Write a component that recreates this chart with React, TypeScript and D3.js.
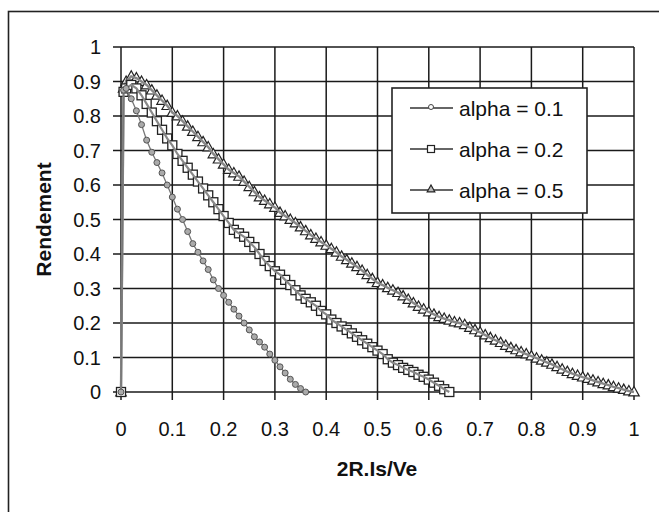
import React from "react";
import * as d3 from "d3";

const xTicks = [0, 0.1, 0.2, 0.3, 0.4, 0.5, 0.6, 0.7, 0.8, 0.9, 1];
const yTicks = [0, 0.1, 0.2, 0.3, 0.4, 0.5, 0.6, 0.7, 0.8, 0.9, 1];
const tickLabels = ["0", "0.1", "0.2", "0.3", "0.4", "0.5", "0.6", "0.7", "0.8", "0.9", "1"];

const seriesNames = ["alpha = 0.1", "alpha = 0.2", "alpha = 0.5"];

const x01 = [0, 0.005, 0.01, 0.02, 0.03, 0.04, 0.05, 0.06, 0.07, 0.08, 0.09, 0.1, 0.11, 0.12, 0.13, 0.14, 0.15, 0.16, 0.17, 0.18, 0.19, 0.2, 0.21, 0.22, 0.23, 0.24, 0.25, 0.26, 0.27, 0.28, 0.29, 0.3, 0.31, 0.32, 0.33, 0.34, 0.35, 0.36];
const y01 = [0, 0.875, 0.88, 0.85, 0.815, 0.775, 0.73, 0.695, 0.665, 0.635, 0.6, 0.565, 0.53, 0.5, 0.465, 0.43, 0.405, 0.38, 0.355, 0.325, 0.3, 0.28, 0.26, 0.24, 0.22, 0.2, 0.18, 0.16, 0.145, 0.13, 0.11, 0.092, 0.073, 0.055, 0.037, 0.022, 0.01, 0.0];

const x02 = [0, 0.005, 0.01, 0.02, 0.03, 0.04, 0.05, 0.06, 0.07, 0.08, 0.09, 0.1, 0.11, 0.12, 0.13, 0.14, 0.15, 0.16, 0.17, 0.18, 0.19, 0.2, 0.21, 0.22, 0.23, 0.24, 0.25, 0.26, 0.27, 0.28, 0.29, 0.3, 0.31, 0.32, 0.33, 0.34, 0.35, 0.36, 0.37, 0.38, 0.39, 0.4, 0.41, 0.42, 0.43, 0.44, 0.45, 0.46, 0.47, 0.48, 0.49, 0.5, 0.51, 0.52, 0.53, 0.54, 0.55, 0.56, 0.57, 0.58, 0.59, 0.6, 0.61, 0.62, 0.63, 0.64];
const y02 = [0, 0.87, 0.88, 0.89, 0.88, 0.86, 0.835, 0.81, 0.785, 0.76, 0.735, 0.715, 0.69, 0.67, 0.65, 0.63, 0.61, 0.59, 0.57, 0.55, 0.53, 0.51, 0.49, 0.47, 0.46, 0.45, 0.435, 0.42, 0.4, 0.38, 0.365, 0.35, 0.34, 0.325, 0.31, 0.295, 0.28, 0.27, 0.26, 0.25, 0.235, 0.225, 0.21, 0.2, 0.19, 0.18, 0.17, 0.16, 0.15, 0.14, 0.13, 0.12, 0.11, 0.095, 0.085, 0.078, 0.07, 0.064, 0.058, 0.05, 0.044, 0.036, 0.027, 0.018, 0.008, 0.0];

const x05 = [0, 0.005, 0.01, 0.02, 0.03, 0.04, 0.05, 0.06, 0.07, 0.08, 0.09, 0.1, 0.11, 0.12, 0.13, 0.14, 0.15, 0.16, 0.17, 0.18, 0.19, 0.2, 0.21, 0.22, 0.23, 0.24, 0.25, 0.26, 0.27, 0.28, 0.29, 0.3, 0.31, 0.32, 0.33, 0.34, 0.35, 0.36, 0.37, 0.38, 0.39, 0.4, 0.41, 0.42, 0.43, 0.44, 0.45, 0.46, 0.47, 0.48, 0.49, 0.5, 0.51, 0.52, 0.53, 0.54, 0.55, 0.56, 0.57, 0.58, 0.59, 0.6, 0.61, 0.62, 0.63, 0.64, 0.65, 0.66, 0.67, 0.68, 0.69, 0.7, 0.71, 0.72, 0.73, 0.74, 0.75, 0.76, 0.77, 0.78, 0.79, 0.8, 0.81, 0.82, 0.83, 0.84, 0.85, 0.86, 0.87, 0.88, 0.89, 0.9, 0.91, 0.92, 0.93, 0.94, 0.95, 0.96, 0.97, 0.98, 0.99, 1.0];
const y05 = [0, 0.88, 0.9, 0.915, 0.91, 0.9, 0.89, 0.875, 0.86, 0.845, 0.83, 0.81, 0.8, 0.785, 0.77, 0.755, 0.74, 0.725, 0.71, 0.69, 0.675, 0.66, 0.645, 0.635, 0.625, 0.61, 0.595, 0.58, 0.565, 0.555, 0.545, 0.535, 0.52, 0.51, 0.5, 0.49, 0.478, 0.467, 0.455, 0.445, 0.435, 0.425, 0.415, 0.405, 0.393, 0.383, 0.373, 0.363, 0.352, 0.34, 0.328, 0.317, 0.31, 0.302, 0.295, 0.288, 0.278, 0.268, 0.258, 0.248, 0.24, 0.232, 0.225, 0.218, 0.213, 0.208, 0.203, 0.2, 0.195, 0.187, 0.18, 0.173, 0.165, 0.157, 0.15, 0.143, 0.135, 0.128, 0.122, 0.116, 0.11, 0.104, 0.098, 0.092, 0.086, 0.08, 0.073, 0.066, 0.059, 0.053, 0.048, 0.043, 0.039, 0.034, 0.029, 0.024, 0.02, 0.015, 0.011, 0.007, 0.003, 0.0];

const FONT = "'Liberation Sans', Arial, sans-serif";

export default function App() {
  const W = 659, H = 512;
  const x = d3.scaleLinear().domain([0, 1]).range([121, 634]);
  const y = d3.scaleLinear().domain([0, 1]).range([392, 47]);
  const line = d3.line<[number, number]>().x(d => x(d[0])).y(d => y(d[1]));
  const s1 = x01.map((v, i) => [v, y01[i]] as [number, number]);
  const s2 = x02.map((v, i) => [v, y02[i]] as [number, number]);
  const s5 = x05.map((v, i) => [v, y05[i]] as [number, number]);
  const tri = (cx: number, cy: number, r: number) =>
    `M${cx},${cy - r}L${cx + r * 0.95},${cy + r * 0.7}L${cx - r * 0.95},${cy + r * 0.7}Z`;
  const lx0 = 410, lx1 = 453, lxm = 431;
  const rows = [108, 149, 190];
  return (
    <svg width={W} height={H} style={{ position: "absolute", left: 0, top: 0, background: "#fff" }} fontFamily={FONT}>
      <rect x={0} y={0} width={W} height={H} fill="#fff" />
      <rect x={8.5} y={11.5} width={800} height={700} fill="none" stroke="#222" strokeWidth={1.6} />
      {/* grid */}
      {yTicks.map((t, i) => (
        <line key={"h" + i} x1={113} x2={634} y1={y(t)} y2={y(t)} stroke="#1a1a1a" strokeWidth={1.5} />
      ))}
      {xTicks.map((t, i) => (
        <line key={"v" + i} x1={x(t)} x2={x(t)} y1={47} y2={400} stroke="#1a1a1a" strokeWidth={1.5} />
      ))}
      {/* tick labels */}
      {yTicks.map((t, i) => (
        <text key={"yl" + i} x={101} y={y(t) + 7} textAnchor="end" fontSize={20} fill="#111">{tickLabels[i]}</text>
      ))}
      {xTicks.map((t, i) => (
        <text key={"xl" + i} x={x(t)} y={436} textAnchor="middle" fontSize={20} fill="#111">{tickLabels[i]}</text>
      ))}
      {/* titles */}
      <text transform={`translate(51,${(47 + 392) / 2}) rotate(-90)`} textAnchor="middle" fontSize={21} fontWeight="bold" fill="#111">Rendement</text>
      <text x={377} y={476} textAnchor="middle" fontSize={21} fontWeight="bold" fill="#111">2R.Is/Ve</text>
      {/* series alpha 0.5 */}
      {s5.map((d, i) => (
        <path key={"t" + i} d={tri(x(d[0]), y(d[1]), 5.5)} fill="#fff" stroke="#222" strokeWidth={1.2} />
      ))}
      <path d={line(s5) || ""} fill="none" stroke="#888" strokeWidth={2.4} />
      {/* series alpha 0.2 */}
      {s2.map((d, i) => (
        <rect key={"s" + i} x={x(d[0]) - 4.5} y={y(d[1]) - 4.5} width={9} height={9} fill="#fff" stroke="#222" strokeWidth={1.3} />
      ))}
      <path d={line(s2) || ""} fill="none" stroke="#888" strokeWidth={2.2} />
      {/* series alpha 0.1 */}
      <path d={line(s1) || ""} fill="none" stroke="#777" strokeWidth={1.3} />
      {s1.map((d, i) => (
        <circle key={"c" + i} cx={x(d[0])} cy={y(d[1])} r={3} fill="#aaa" stroke="#555" strokeWidth={1} />
      ))}
      {/* legend */}
      <rect x={392} y={88} width={195} height={125} fill="#fff" stroke="#222" strokeWidth={1.6} />
      {seriesNames.map((n, i) => (
        <g key={"lg" + i}>
          <line x1={lx0} x2={lx1} y1={rows[i]} y2={rows[i]} stroke="#333" strokeWidth={1.3} />
          {i === 0 && <circle cx={lxm} cy={rows[i] - 1} r={2.5} fill="#fff" stroke="#444" strokeWidth={1} />}
          {i === 1 && <rect x={lxm - 3.5} y={rows[i] - 3.5} width={7} height={7} fill="#fff" stroke="#222" strokeWidth={1.2} />}
          {i === 2 && <path d={tri(lxm, rows[i] - 1, 4)} fill="#bbb" stroke="#222" strokeWidth={1.2} />}
          <text x={459} y={rows[i] + 8} fontSize={21} fill="#111">{n}</text>
        </g>
      ))}
    </svg>
  );
}
